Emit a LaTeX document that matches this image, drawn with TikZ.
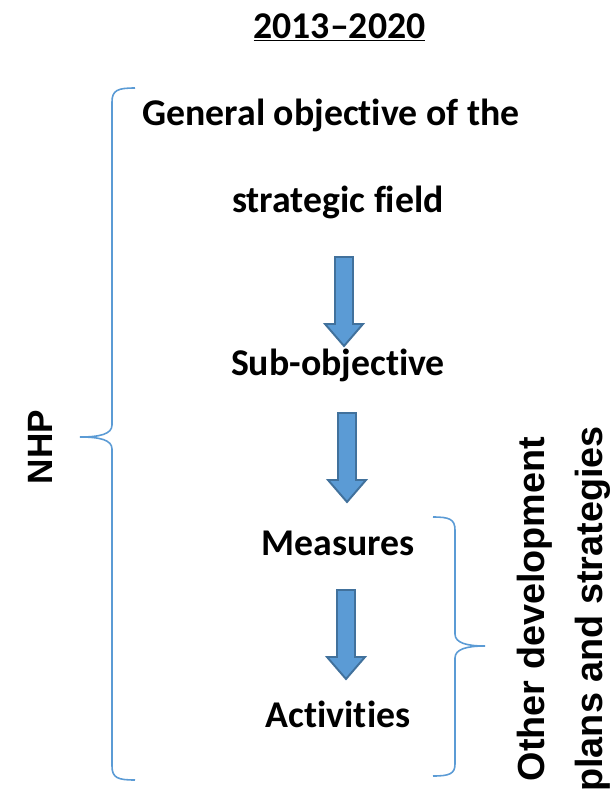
\documentclass[tikz,border=0pt]{standalone}
\usepackage{fontspec}
\setmainfont{Carlito}[RawFeature=-liga]
\newfontfamily\arialfont{Liberation Sans}
\usetikzlibrary{positioning}
\definecolor{braceblue}{HTML}{5B9BD5}
\definecolor{arrowfill}{HTML}{5B9BD5}
\definecolor{arrowedge}{HTML}{41719C}

\begin{document}
\begin{tikzpicture}[
  x=0.02cm,y=-0.02cm,
  lvl/.style={font=\bfseries\fontsize{21.5}{26}\selectfont,anchor=base,inner sep=0pt},
  side/.style={font=\arialfont\bfseries\fontsize{21.5}{33}\selectfont,rotate=90,align=center,inner sep=0pt},
  brace/.style={draw=braceblue,line width=0.9pt},
  blockarrow/.style={fill=arrowfill,draw=arrowedge,line width=1.1pt,line join=miter},
]
\useasboundingbox (0,0) rectangle (613,795);

% ---------- the levels, top to bottom ----------
\node[lvl] (years) at (339.5,38) {\underline{2013–2020}};
\node[lvl] (gen1) at (331,125) {General objective of the};
\node[lvl] (gen2) at (338,212) {strategic field};
\node[lvl] (sub) at (338,375) {Sub-objective};
\node[lvl] (meas) at (338,555) {Measures};
\node[lvl] (act) at (338,727) {Activities};

% ---------- block arrows between the levels ----------
% #1=x of the axis  #2=top  #3=tip
\newcommand{\flowarrow}[3]{%
  \draw[blockarrow] (#1-9,#2) -- (#1+9,#2) -- (#1+9,#3-22) -- (#1+19,#3-22)
    -- (#1,#3) -- (#1-19,#3-22) -- (#1-9,#3-22) -- cycle;}
\flowarrow{344}{257}{346}
\flowarrow{347}{413}{502}
\flowarrow{346}{590}{679}

% ---------- left brace: NHP ----------
\draw[brace] (135,88) .. controls (118,88) and (112,90) .. (112,102) -- (112,425)
  .. controls (112,434) and (100,437) .. (80,437)
  .. controls (100,437) and (112,440) .. (112,449) -- (112,766)
  .. controls (112,778) and (118,780) .. (135,780);
\node[font=\arialfont\bfseries\fontsize{20}{24}\selectfont,rotate=90,inner sep=0pt] (nhp) at (40,447) {NHP};

% ---------- right brace: other plans ----------
\draw[brace] (433,517) .. controls (449,517) and (455,519) .. (455,530) -- (455,634)
  .. controls (455,643) and (467,646) .. (485,646)
  .. controls (467,646) and (455,649) .. (455,658) -- (455,764)
  .. controls (455,774) and (449,776) .. (433,776);
\node[side] (other) at (564,609) {Other development\\plans and strategies};

\end{tikzpicture}
\end{document}
